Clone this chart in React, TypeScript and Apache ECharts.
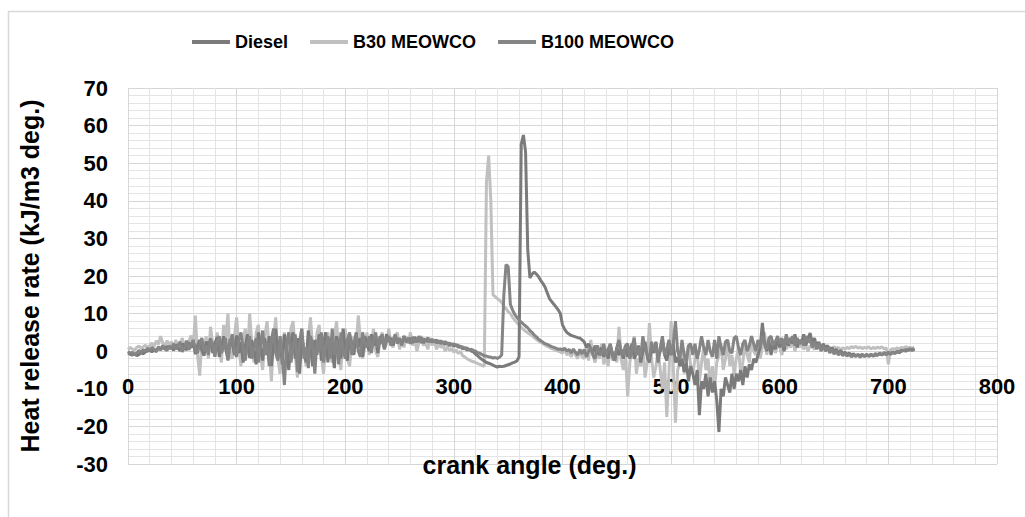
import React, { useEffect, useRef } from "react";
import * as echarts from "echarts";

// crank angle samples (deg.), every 2 degrees
const angles: number[] = [
  0, 2, 4, 6, 8, 10, 12, 14, 16, 18,
  20, 22, 24, 26, 28, 30, 32, 34, 36, 38,
  40, 42, 44, 46, 48, 50, 52, 54, 56, 58,
  60, 62, 64, 66, 68, 70, 72, 74, 76, 78,
  80, 82, 84, 86, 88, 90, 92, 94, 96, 98,
  100, 102, 104, 106, 108, 110, 112, 114, 116, 118,
  120, 122, 124, 126, 128, 130, 132, 134, 136, 138,
  140, 142, 144, 146, 148, 150, 152, 154, 156, 158,
  160, 162, 164, 166, 168, 170, 172, 174, 176, 178,
  180, 182, 184, 186, 188, 190, 192, 194, 196, 198,
  200, 202, 204, 206, 208, 210, 212, 214, 216, 218,
  220, 222, 224, 226, 228, 230, 232, 234, 236, 238,
  240, 242, 244, 246, 248, 250, 252, 254, 256, 258,
  260, 262, 264, 266, 268, 270, 272, 274, 276, 278,
  280, 282, 284, 286, 288, 290, 292, 294, 296, 298,
  300, 302, 304, 306, 308, 310, 312, 314, 316, 318,
  320, 322, 324, 326, 328, 330, 332, 334, 336, 338,
  340, 342, 344, 346, 348, 350, 352, 354, 356, 358,
  360, 362, 364, 366, 368, 370, 372, 374, 376, 378,
  380, 382, 384, 386, 388, 390, 392, 394, 396, 398,
  400, 402, 404, 406, 408, 410, 412, 414, 416, 418,
  420, 422, 424, 426, 428, 430, 432, 434, 436, 438,
  440, 442, 444, 446, 448, 450, 452, 454, 456, 458,
  460, 462, 464, 466, 468, 470, 472, 474, 476, 478,
  480, 482, 484, 486, 488, 490, 492, 494, 496, 498,
  500, 502, 504, 506, 508, 510, 512, 514, 516, 518,
  520, 522, 524, 526, 528, 530, 532, 534, 536, 538,
  540, 542, 544, 546, 548, 550, 552, 554, 556, 558,
  560, 562, 564, 566, 568, 570, 572, 574, 576, 578,
  580, 582, 584, 586, 588, 590, 592, 594, 596, 598,
  600, 602, 604, 606, 608, 610, 612, 614, 616, 618,
  620, 622, 624, 626, 628, 630, 632, 634, 636, 638,
  640, 642, 644, 646, 648, 650, 652, 654, 656, 658,
  660, 662, 664, 666, 668, 670, 672, 674, 676, 678,
  680, 682, 684, 686, 688, 690, 692, 694, 696, 698,
  700, 702, 704, 706, 708, 710, 712, 714, 716, 718,
  720, 722, 724,
];

const dieselHRR: number[] = [
  -0.5, -0.8, -1, -0.6, -1.2, -0.9, -0.4, -0.7, -0.2, 0,
  0.3, -0.2, 0.5, 0.2, 0.8, 0.4, 1, 0.6, 1.3, 0.7,
  1.2, 0.2, 1.8, 0.8, 0.1, 2, 1.2, 0.3, 2.4, 0.9,
  2.8, -0.8, 1.5, 3, 0.2, -1.2, 2.6, 1, 3.4, -0.5,
  2, 3.8, -1.5, 1, 4, 0.5, -2.2, 3.2, 1.8, -1,
  4.2, -0.5, 2.5, -3, 1.5, 4.5, -1.8, 3, 0, -3.5,
  5, 1, -2.5, 3.5, -1, 4, -4, 2, 6, -2,
  3, -3.5, 4.5, 0.5, -5, 2.5, 5, -2, 3.5, -6,
  4, 0, -3, 5.5, 1.5, -4, 3, -1, 4.5, -2.5,
  2, 5, -3, 3.5, 0, -4.5, 4, 1.5, -2, 6,
  0.5, -2.5, 4.5, 2, -1, 5, 1, 3.5, -1.5, 4,
  2, 0, 4.5, 1.5, 3.5, -0.5, 4, 2.5, 1, 4.5,
  2.5, 3.5, 1.5, 4, 2.8, 3.2, 2, 4, 2.5, 3,
  3.5, 2.2, 3.8, 2.5, 3, 3.6, 2.2, 3.2, 2.6, 3,
  2.4, 3, 2.2, 2.8, 2, 2.5, 1.8, 2.3, 1.5, 2,
  1.3, 1.8, 1, 1.4, 0.6, 1, 0.3, 0.5, 0, -0.2,
  -0.8, -1.2, -1.8, -2.2, -2.6, -3, -3.2, -3.4, -3.7, -4,
  -4.2, -4, -4.1, -4, -3.8, -3.6, -3.4, -3.1, -2.9, -2.6,
  -1.5, 55, 57.5, 53, 27, 19.5, 20.5, 21, 20.5, 19.8,
  18.8, 18, 17, 15.5, 14, 13.2, 12.5, 11.8, 11, 10,
  7, 5.8, 5, 4.6, 4.2, 4, 3.8, 3.6, 3.5, 3,
  2.5, 1, 2, 0.5, -0.5, 1.5, 0, -1, 1, -1.5,
  0.5, -2, 1.5, -0.5, -2.5, 1, -1, 0.5, -2, 1.5,
  -1.5, 0, 2, -2, -0.5, 1.5, -3, 0, 2.5, -1.5,
  -3, 1, -0.5, 2.5, -2, 0, 3, -1, -2.5, 1,
  -1, 2, -3, -1.5, -4, -2, -5.5, -3, -8, -4,
  -6, -9, -5, -17, -8, -10, -6, -12, -7, -11,
  -8, -13, -21.5, -10, -12, -7, -9, -11, -6, -10,
  -6, -8, -5, -9, -4, -7, -3.5, -5, -2, -3,
  -1, 1, 7.5, 2, 0, 3, -1, 2, 0.5, 3.5,
  1, 3, 0, 4, 1.5, 3.5, 2, 4.5, 1, 3,
  2, 4.5, 1.5, 3.5, 4.8, 2, 3.5, 1, 2.5, 0.5,
  2, 0.8, 1.5, 0, 1, -0.2, 0.5, -0.5, 0.2, -0.6,
  -0.3, -0.8, -0.5, -1.1, -0.7, -1.3, -0.9, -1.2, -0.8, -1.4,
  -1, -1.2, -0.8, -1.3, -1, -1.1, -0.7, -1, -0.6, -0.9,
  -0.5, -0.8, -0.4, -0.6, -0.2, -0.4, 0, 0.2, 0, 0.3,
  0.4, 0.2, 0.5,
];

const b30HRR: number[] = [
  0.5, 1, 0.6, 0.2, 1, 1.4, 0.8, 1.2, 1.6, 0.9,
  1.5, 2.2, 1.2, 2.8, 1.8, 4, 2.2, 1.5, 2.8, 1.6,
  2.5, 1, 3, 0.5, 2, 3.5, 1.2, 0.8, 2.6, 4.2,
  1, 9.5, -1, -6.5, 3, 0.5, 4, -2, 6.5, 2,
  -1.5, 5, 1, -3, 7, 3, 10, -1, -2, 4,
  9, 1, -4, 3, 6, -1, 10, 2, -3, 5,
  7, -1, -5, 4, 8, 1, -8, 3, 9, -2,
  -6, 2, 5, 0, -3, 6, 8, -1, -7, 3,
  6, 0, -4, 3, 9, 1, -2, 5, 7, -1,
  -6, 2, 5, -1, -3, 4, 8, 0, -5, 3,
  6, -2, -4, 2, 4, 1, 9.5, 3, -2, 1,
  5, -1, 2, 6, 0, -1.5, 3, 5, 0.5, 2,
  6, 2, 1, 4, 5, 0.5, 3, 1, 4, 2,
  5, 1.5, 3, 0, 2.5, 4, 1.5, 2.5, 0.5, 3.5,
  1.5, 3, 0.5, 2, 1, 1.5, 0, 1.2, 0.2, 0.8,
  -0.3, 0.4, -0.6, 0, -1.2, -1.5, -2, -2.3, -2.6, -2.8,
  -3, -3.3, -3.5, -3.8, -4, 45, 52, 40, 15, 14.5,
  14, 13.5, 13, 12, 11.3, 10.5, 10, 9, 8.3, 7.6,
  7, 6.3, 5.8, 5.3, 4.9, 4.5, 4.1, 3.6, 3.1, 2.7,
  2.4, 2, 1.6, 1.3, 1, 0.7, 0.5, 0.2, 0, -0.2,
  -0.5, 0.5, -1, -0.3, -1.5, 0, -1, -2, 0.5, -1.5,
  -2, 1, -2.5, 3, -1, -3, 0, -2, 2, -3.5,
  -1, -4, 2, -2.5, 0, -3, 6.5, -2, -5, -1,
  -12, -3, 1, 4, -6, -2, -4, 1, -7, -3,
  7.5, -2, -7, -4, 0, -5, -10, -3, -17.5, -6,
  8, -4, -19, -5, -3, 2, -6, -1, 1.5, -4,
  -6, -2, 0, -8, -3, 1, -5, -2, -9, -4,
  -10, -3, -1, 2, -5, -2, 3, -4, -1, -6,
  -2, 1, -6, -3, 2, -1, -3, 4, 0, -1,
  3, -2, 1, 5, -1, 2, 0, 3, -0.5, 2,
  1, -1, 3, 0.5, 2, 1, 3, 0, 2.5, 1,
  2, 0.5, 1.5, 0, 1.5, 1, 0.5, 1.5, 0.8, 1.2,
  0.6, 1.4, 0.8, 1, 0.5, 1.2, 0.7, 1, 0.4, 0.9,
  0.5, 1, 0.7, 1.2, 0.9, 1.3, 0.8, 1.1, 0.7, 1,
  0.8, 1.2, 0.6, 1, 0.7, 1.1, 0.8, 1.2, 0.6, 0.9,
  -3.5, 0.4, 0.7, 0.5, 0.9, 0.6, 1, 0.8, 1.2, 0.9,
  1, 0.8, 1,
];

const b100HRR: number[] = [
  0, -0.6, -0.3, -1, -0.5, 0.2, -0.3, 0.4, 0, 0.8,
  0.2, 1, 0.5, -0.2, 1.2, 0.4, 1.5, 0.6, 0.2, 1.4,
  0.6, 2, 0.5, 1.5, 2.5, -0.2, 1, 2.8, 0.4, 1.5,
  3, 0.5, -0.5, 2, 3.5, 0, 1.5, -1, 3, 2,
  -1.5, 2.5, 4, -0.5, 1, 3.5, -2.5, 2, 4.5, 0,
  -1.5, 3, 5, 0.5, -2.5, 2, 4, -2, 1, 3.5,
  -3, 1.5, 5.5, -1, 2.5, -4, 3, 6, -0.5, -2.5,
  4, -1, -9, 2, 5, -3, 1, 4.5, -5.5, 2,
  6, -2, 1, -4.5, 4, 2, -6, 3, 0, 5,
  -3, 1.5, 4, -2, 6, -1, 3, -3.5, 5, 0.5,
  -2, 3, 5, -1, 2, 4.5, 0, -1.5, 5, 2,
  1, 4, -0.5, 3, 5, 1, 2.5, 4.5, 0.5, 3,
  4, 1.5, 3, 4.5, 2, 3.5, 1.5, 4, 2.5, 3.5,
  2, 3.8, 2.5, 3, 4, 2.2, 3.4, 2.8, 3.6, 2.4,
  3.2, 2.6, 3, 2.2, 2.8, 2, 2.6, 1.8, 2.2, 1.6,
  2, 1.4, 1.6, 1, 1.2, 0.6, 0.9, 0.4, 0.5, 0.2,
  0, -0.4, -0.6, -0.9, -1.2, -1.3, -1.5, -1.6, -1.8, -1.7,
  -1.9, -1.6, -1, 15, 23, 22.5, 12.5, 11, 9.8, 9,
  8.3, 7.7, 7.2, 6.7, 6.2, 5.5, 5, 4.3, 3.8, 3.2,
  2.8, 2.4, 2, 1.8, 1.5, 1.2, 1, 0.8, 0.5, 0.6,
  0.3, 0.8, 0, 0.5, -0.5, 0.6, -0.3, -1, 0.5, -0.8,
  0.5, -1.5, 0, 1, -1, -2, 1.5, 0, -1, 2,
  -1, 0.5, 2, -1.5, -2.5, 1, 3, 0, -1, 1.5,
  2, -2, 0.5, 3.5, -1, 1, -1.5, 4, 0.5, -1,
  -2, 2.5, 0, 2, -3, 1, 4, -1, 0.5, 3,
  -1, 2, 8, 0, -2, 3, -1, -3, 1.5, 2,
  -1, 2, -2, 0.5, 4, 1, -1, 3, 0, -1.5,
  3, -2, 4, 1, -1, 2.5, 3, 0, -0.5, 3.5,
  4, 1, -1, 2, 3, 0, 1.5, 4, 2, 0,
  3, 1, 4, 2, 0.5, 3.5, 4, 1.5, 2.5, 4,
  2, 3.5, 1, 4.5, 2, 3, 4, 1.5, 3.5, 2,
  3, 1.5, 4, 2.5, 3, 1, 2.5, 0.5, 2, 0,
  1.5, 0, 1, -0.5, 0.5, -0.8, 0, -1, -0.3, -1.2,
  -0.6, -1.3, -0.8, -1.5, -1, -1.4, -0.9, -1.6, -1.1, -1.3,
  -0.8, -1.4, -1, -1.2, -0.6, -1, -0.5, -0.9, -0.4, -0.7,
  -0.3, -0.6, -0.2, -0.5, 0, -0.2, 0.3, 0.1, 0.4, 0.3,
  0.6, 0.4, 0.7,
];

const seriesNames = ["Diesel", "B30 MEOWCO", "B100 MEOWCO"];
const seriesColors = ["#7b7b7b", "#c0c0c0", "#858585"];

const FONT = "'Liberation Sans', Arial, sans-serif";

function pairs(vals: number[]): number[][] {
  return angles.map((a, i) => [a, vals[i]]);
}

export default function App() {
  const ref = useRef<HTMLDivElement>(null);
  useEffect(() => {
    if (!ref.current) return;
    const chart = echarts.init(ref.current, null, { renderer: "svg" });
    const data = [dieselHRR, b30HRR, b100HRR];
    const gridTop = 88;
    const gridBottom = 53;
    const plotH = 517 - gridTop - gridBottom;
    const zeroOffset = -(plotH * 30) / 100; // distance from bottom edge to y = 0
    chart.setOption({
      animation: false,
      backgroundColor: "#ffffff",
      graphic: [
        {
          type: "rect",
          silent: true,
          shape: { x: 8.5, y: 11.5, width: 1030, height: 530 },
          style: { fill: "none", stroke: "#d9d9d9", lineWidth: 1.5 },
        },
      ],
      legend: {
        left: 187,
        top: 28,
        itemWidth: 38,
        itemHeight: 4,
        itemGap: 22,
        icon: "rect",
        data: seriesNames,
        textStyle: { fontSize: 18, fontWeight: "bold", color: "#000", fontFamily: FONT },
      },
      grid: {
        left: 128,
        right: 28,
        top: gridTop,
        bottom: gridBottom,
        containLabel: false,
        outerBoundsMode: "none",
      },
      xAxis: {
        type: "value",
        min: 0,
        max: 800,
        interval: 100,
        offset: zeroOffset,
        name: "crank angle (deg.)",
        nameLocation: "middle",
        nameGap: 101,
        nameTextStyle: {
          fontSize: 25,
          fontWeight: "bold",
          color: "#000",
          fontFamily: FONT,
          padding: [0, 66, 0, 0],
        },
        axisLine: { show: false, onZero: false },
        axisTick: { show: false },
        axisLabel: { margin: 24, fontSize: 22, fontWeight: "bold", color: "#000", fontFamily: FONT },
        splitLine: { show: true, lineStyle: { color: "#d6d6d6", width: 1 } },
        minorTick: { show: false, splitNumber: 5 },
        minorSplitLine: { show: true, lineStyle: { color: "#e4e4e4", width: 1 } },
      },
      yAxis: {
        type: "value",
        min: -30,
        max: 70,
        interval: 10,
        name: "Heat release rate (kJ/m3 deg.)",
        nameLocation: "middle",
        nameGap: 86,
        nameRotate: 90,
        nameTextStyle: { fontSize: 25, fontWeight: "bold", color: "#000", fontFamily: FONT },
        axisLine: { show: false },
        axisTick: { show: false },
        axisLabel: { margin: 20, fontSize: 22, fontWeight: "bold", color: "#000", fontFamily: FONT },
        splitLine: { show: true, lineStyle: { color: "#d6d6d6", width: 1 } },
        minorTick: { show: false, splitNumber: 5 },
        minorSplitLine: { show: true, lineStyle: { color: "#e4e4e4", width: 1 } },
      },
      series: seriesNames.map((name, i) => ({
        name,
        type: "line",
        data: pairs(data[i]),
        showSymbol: false,
        symbol: "none",
        z: i === 1 ? 2 : 3,
        color: seriesColors[i],
        lineStyle: { color: seriesColors[i], width: 3 },
      })),
    });
    return () => chart.dispose();
  }, []);
  return (
    <div
      ref={ref}
      style={{ position: "absolute", left: 0, top: 0, width: 1025, height: 517 }}
    />
  );
}
